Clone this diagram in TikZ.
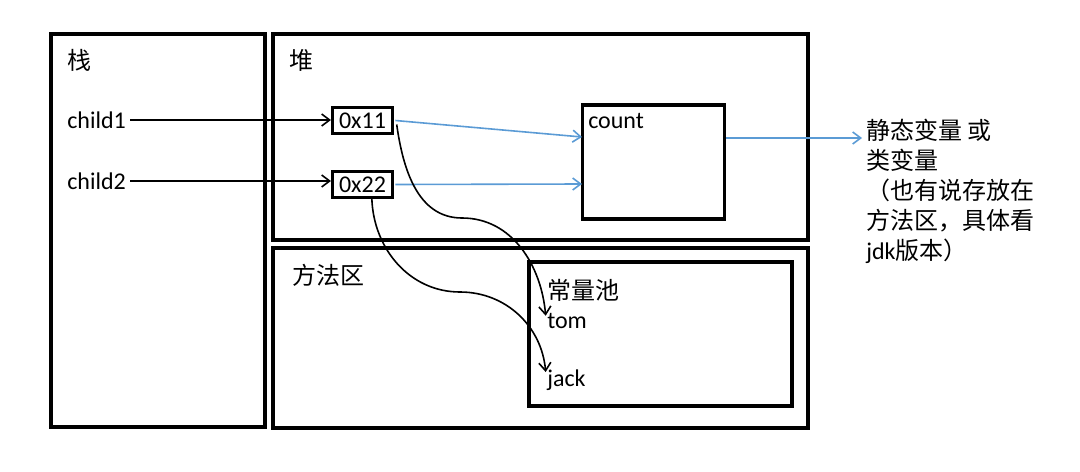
\documentclass[tikz,border=0pt]{standalone}
\usepackage{fontspec}
\setmainfont{Carlito}
\newfontfamily\cjk{Noto Sans CJK SC}
\usetikzlibrary{arrows.meta}

\tikzset{
  area/.style={draw, line width=2.3pt},
  addr/.style={draw, line width=2.3pt, minimum width=45pt, minimum height=19pt, inner sep=0pt},
  lbl/.style={anchor=west, inner sep=0pt},
  ref/.style={-{Straight Barb[length=6pt,width=9pt]}, line width=1.2pt},
  bluref/.style={ref, draw=linkblue},
}
\definecolor{linkblue}{HTML}{5B9BD5}

\begin{document}
\begin{tikzpicture}[x=0.75pt, y=-0.75pt, font=\fontsize{18}{22.5}\selectfont]
\useasboundingbox (0,0) rectangle (1080,471);

% memory areas
\draw[area] (51,34) rectangle (265,427);
\draw[area] (273,34) rectangle (808,240);
\draw[area] (273,248) rectangle (808,428);
\draw[area] (529,262) rectangle (792,406);

\node[lbl] (stack) at (67,60) {\cjk 栈};
\node[lbl] (heap) at (289,60) {\cjk 堆};
\node[lbl] (method) at (292,275) {\cjk 方法区};
\node[lbl] (pool) at (547,290) {\cjk 常量池};

% variables on the stack
\node[lbl] (child1) at (67,120) {child1};
\node[lbl] (child2) at (67,181) {child2};

% objects in the heap
\node[addr] (x11) at (362.5,120.5) {0x11};
\node[addr] (x22) at (362.5,184.5) {0x22};
\node[draw, line width=2.3pt, minimum width=107pt, minimum height=85.5pt] (count) at (653.5,162) {};
\node[lbl] (countlbl) at (588,121) {count};

% constants
\node[lbl] (tom) at (547,321) {tom};
\node[lbl] (jack) at (547,380) {jack};

% note
\node[anchor=north west, inner sep=0pt, align=left] (note) at (866,119)
  {{\cjk 静态变量 或}\\{\cjk 类变量}\\{\cjk （也有说存放在}\\{\cjk 方法区，具体看}\\jdk{\cjk 版本）}};

\coordinate (in1) at (582,137);
\coordinate (in2) at (582,184);
\coordinate (out1) at (862,138);
\coordinate (bend1) at (462,218);
\coordinate (bend2) at (460,292);

\draw[ref] ([xshift=3pt]child1.east) -- (x11.west |- child1.east);
\draw[ref] ([xshift=3pt]child2.east) -- (x22.west |- child2.east);

\draw[bluref] ([xshift=1pt]x11.east) -- (in1);
\draw[bluref] ([xshift=1pt]x22.east) -- (in2);
\draw[bluref] (count.east |- out1) -- (out1);

\draw[ref] ([xshift=2pt,yshift=-3pt]x11.east) to[out=-82,in=180] (bend1)
  to[out=0,in=95] ([xshift=-1pt,yshift=-2pt]tom.north west);
\draw[ref] ([xshift=7pt]x22.south) to[out=-88,in=180] (bend2)
  to[out=0,in=95] ([xshift=-1pt,yshift=-2pt]jack.north west);
\end{tikzpicture}
\end{document}
